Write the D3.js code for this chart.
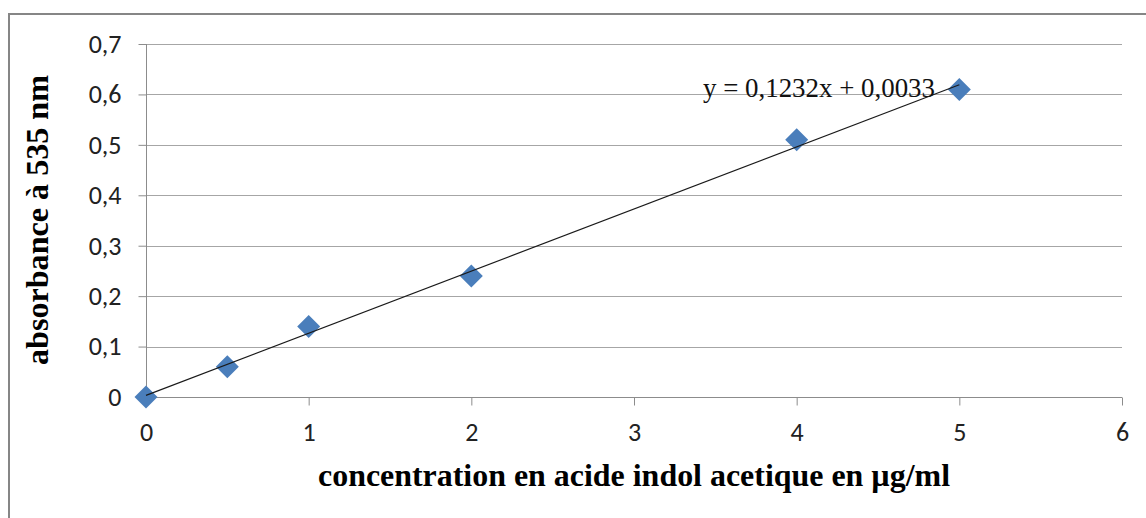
<!DOCTYPE html>
<html><head><meta charset="utf-8">
<script src="https://cdn.jsdelivr.net/npm/d3@7"></script>
<style>body{margin:0;background:#fff}</style>
</head><body>
<svg id="c" width="1146" height="518"></svg>
<script>
const concentrations = [0, 0.5, 1, 2, 4, 5];
const absorbances = [0.0, 0.06, 0.14, 0.24, 0.51, 0.61];
const xTicks = [0, 1, 2, 3, 4, 5, 6];
const yTicks = [0, 0.1, 0.2, 0.3, 0.4, 0.5, 0.6, 0.7];
const slope = 0.1232, intercept = 0.0033;
const equationLabel = "y = 0,1232x + 0,0033";
const xTitle = "concentration en acide indol acetique en µg/ml";
const yTitle = "absorbance à 535 nm";

const svg = d3.select("#c");
const x = d3.scaleLinear().domain([0, 6]).range([146, 1122]);
const y = d3.scaleLinear().domain([0, 0.7]).range([397, 44]);
const fmt = v => String(+v.toFixed(1)).replace(".", ",");

svg.append("rect").attr("x", 9).attr("y", 14).attr("width", 1200).attr("height", 600)
  .attr("fill", "#fff").attr("stroke", "#868686").attr("stroke-width", 2);

// gridlines
svg.append("g").selectAll("line").data(yTicks.slice(1)).join("line")
  .attr("x1", 146).attr("x2", 1122).attr("y1", d => Math.round(y(d)) + 0.5).attr("y2", d => Math.round(y(d)) + 0.5)
  .attr("stroke", "#a6a6a6").attr("stroke-width", 1);

const yAxis = svg.append("g").attr("transform", "translate(146.5,0)")
  .call(d3.axisLeft(y).tickValues(yTicks).tickFormat(fmt).tickSize(8).tickPadding(17));
const xAxis = svg.append("g").attr("transform", "translate(0,397.5)")
  .call(d3.axisBottom(x).tickValues(xTicks).tickFormat(d => d).tickSize(8).tickPadding(17));
[yAxis, xAxis].forEach(g => {
  g.selectAll("path,line").attr("stroke", "#8c8c8c");
  g.selectAll("text").attr("font-family", "Carlito, 'Open Sans', sans-serif").attr("font-size", 26).attr("fill", "#222");
});
xAxis.select(".domain").attr("d", "M146,0H1122");
yAxis.select(".domain").attr("d", `M0,${y(0)}V${y(0.7)}`);

// markers
svg.append("g").selectAll("path").data(concentrations.map((c, i) => [c, absorbances[i]])).join("path")
  .attr("d", d => { const cx = x(d[0]), cy = y(d[1]), r = 11.5; return `M${cx},${cy - r}L${cx + r},${cy}L${cx},${cy + r}L${cx - r},${cy}Z`; })
  .attr("fill", "#4a7ebb");

// trendline
const xMin = d3.min(concentrations), xMax = d3.max(concentrations);
svg.append("line")
  .attr("x1", x(xMin)).attr("y1", y(slope * xMin + intercept))
  .attr("x2", x(xMax)).attr("y2", y(slope * xMax + intercept))
  .attr("stroke", "#1a1a1a").attr("stroke-width", 1.2);

svg.append("text").attr("x", 703).attr("y", 97)
  .attr("font-family", "'Liberation Serif', serif").attr("font-size", 27).attr("fill", "#111")
  .attr("textLength", 232).attr("lengthAdjust", "spacingAndGlyphs")
  .text(equationLabel);

svg.append("text").attr("x", 634).attr("y", 486).attr("text-anchor", "middle")
  .attr("font-family", "'Liberation Serif', serif").attr("font-weight", "bold").attr("font-size", 31).attr("fill", "#000")
  .attr("textLength", 632).attr("lengthAdjust", "spacingAndGlyphs")
  .text(xTitle);

svg.append("text").attr("transform", "translate(48,220) rotate(-90)").attr("text-anchor", "middle")
  .attr("font-family", "'Liberation Serif', serif").attr("font-weight", "bold").attr("font-size", 31).attr("fill", "#000")
  .attr("textLength", 290).attr("lengthAdjust", "spacingAndGlyphs")
  .text(yTitle);
</script>
</body></html>
